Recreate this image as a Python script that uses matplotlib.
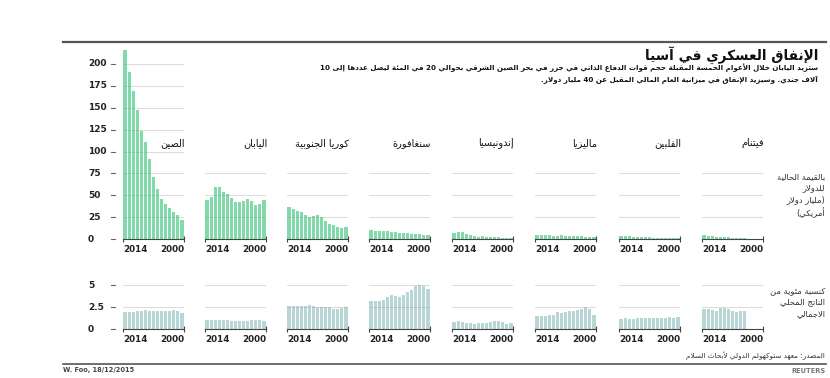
import re
import matplotlib
matplotlib.use('Agg')
import matplotlib.pyplot as plt
import matplotlib.transforms as mtransforms
from matplotlib.lines import Line2D

plt.rcParams['font.family'] = ['DejaVu Sans']

# ─── Data (years run 2014 -> 2000, left to right) ────────────────────────────
countries = ['الصين', 'اليابان', 'كوريا الجنوبية', 'سنغافورة',
             'إندونيسيا', 'ماليزيا', 'الفلبين', 'فيتنام']

# military spending, current USD bn
china_usd       = [216, 191, 169, 147, 123, 111, 92, 71, 57, 46, 40, 35, 31, 27, 22]
japan_usd       = [45, 48, 59, 59, 54, 51, 47, 42, 42, 44, 46, 43, 39, 40, 45]
korea_usd       = [37, 34, 32, 31, 28, 25, 26, 27, 25, 21, 17, 16, 14, 13, 14]
singapore_usd   = [9.8, 9.7, 9.7, 9.4, 8.9, 8.2, 7.7, 7.2, 6.8, 6.4, 6.1, 5.5, 5.2, 5.1, 5.0]
indonesia_usd   = [7.0, 8.4, 7.8, 6.0, 4.7, 3.3, 2.7, 3.0, 2.6, 2.6, 2.4, 2.3, 1.4, 1.1, 1.0]
malaysia_usd    = [4.9, 4.8, 4.6, 4.6, 3.9, 4.0, 4.6, 4.0, 3.4, 3.0, 3.0, 3.4, 2.7, 2.4, 1.9]
philippines_usd = [3.2, 3.3, 2.9, 2.4, 2.4, 2.2, 2.0, 1.9, 1.5, 1.2, 1.2, 1.1, 1.1, 1.1, 1.3]
vietnam_usd     = [4.3, 3.9, 3.4, 2.7, 2.4, 2.1, 1.9, 1.5, 1.2, 1.0, 0.9]

# share of GDP, %
china_gdp       = [1.95, 1.95, 1.95, 2.0, 2.1, 2.2, 2.05, 2.05, 2.05, 2.05, 2.05, 2.1, 2.15, 2.05, 1.8]
japan_gdp       = [1.0, 1.0, 1.05, 1.05, 1.0, 1.0, 0.95, 0.95, 0.95, 0.95, 0.95, 1.0, 1.0, 1.0, 0.95]
korea_gdp       = [2.6, 2.6, 2.6, 2.6, 2.6, 2.75, 2.6, 2.5, 2.5, 2.5, 2.45, 2.3, 2.3, 2.4, 2.5]
singapore_gdp   = [3.2, 3.2, 3.2, 3.3, 3.6, 3.9, 3.8, 3.6, 3.9, 4.2, 4.4, 4.9, 5.0, 4.9, 4.5]
indonesia_gdp   = [0.8, 0.9, 0.85, 0.7, 0.65, 0.6, 0.65, 0.7, 0.7, 0.75, 0.9, 0.9, 0.75, 0.6, 0.7]
malaysia_gdp    = [1.5, 1.5, 1.5, 1.6, 1.55, 1.9, 1.8, 1.95, 2.0, 2.1, 2.2, 2.3, 2.5, 2.25, 1.6]
philippines_gdp = [1.1, 1.2, 1.15, 1.15, 1.2, 1.2, 1.2, 1.2, 1.2, 1.2, 1.25, 1.3, 1.4, 1.3, 1.4]
vietnam_gdp     = [2.3, 2.3, 2.2, 2.0, 2.35, 2.35, 2.3, 2.1, 1.9, 2.0, 2.1]

usd_series = [china_usd, japan_usd, korea_usd, singapore_usd,
              indonesia_usd, malaysia_usd, philippines_usd, vietnam_usd]
gdp_series = [china_gdp, japan_gdp, korea_gdp, singapore_gdp,
              indonesia_gdp, malaysia_gdp, philippines_gdp, vietnam_gdp]

usd_ticks = [0, 25, 50, 75, 100, 125, 150, 175, 200]
gdp_ticks = [0, 2.5, 5]
gdp_tick_labels = ['0', '2.5', '5']
year_labels = ['2014', '2000']

title = 'الإنفاق العسكري في آسيا'
subtitle = ['ستزيد اليابان خلال الأعوام الخمسة المقبلة حجم قوات الدفاع الذاتي في جزر في بحر الصين الشرقي بحوالي 20 في المئة ليصل عددها إلى 10',
            'آلاف جندي. وسيزيد الإنفاق في ميزانية العام المالي المقبل عن 40 مليار دولار.']
usd_label = ['بالقيمة الحالية', 'للدولار', '(مليار دولار', 'أمريكي)']
gdp_label = ['كنسبة مئوية من', 'الناتج المحلي', 'الاجمالي']
source = 'المصدر: معهد ستوكهولم الدولي لأبحاث السلام'
credit = 'W. Foo, 18/12/2015'

# ─── Arabic shaping + visual ordering (matplotlib has no bidi) ───────────────
DUAL = {'ئ': 0xFE89, 'ب': 0xFE8F, 'ت': 0xFE95, 'ث': 0xFE99, 'ج': 0xFE9D, 'ح': 0xFEA1,
        'خ': 0xFEA5, 'س': 0xFEB1, 'ش': 0xFEB5, 'ص': 0xFEB9, 'ض': 0xFEBD, 'ط': 0xFEC1,
        'ظ': 0xFEC5, 'ع': 0xFEC9, 'غ': 0xFECD, 'ف': 0xFED1, 'ق': 0xFED5, 'ك': 0xFED9,
        'ل': 0xFEDD, 'م': 0xFEE1, 'ن': 0xFEE5, 'ه': 0xFEE9, 'ي': 0xFEF1}
RIGHT = {'آ': 0xFE81, 'أ': 0xFE83, 'ؤ': 0xFE85, 'إ': 0xFE87, 'ا': 0xFE8D, 'ة': 0xFE93,
         'د': 0xFEA9, 'ذ': 0xFEAB, 'ر': 0xFEAD, 'ز': 0xFEAF, 'و': 0xFEED, 'ى': 0xFEEF}
LAM_ALEF = {'آ': 0xFEF5, 'أ': 0xFEF7, 'إ': 0xFEF9, 'ا': 0xFEFB}


def forms(c):
    # (isolated, final, initial, medial)
    if c in DUAL:
        b = DUAL[c]
        return (b, b + 1, b + 2, b + 3)
    if c in RIGHT:
        b = RIGHT[c]
        return (b, b + 1, None, None)
    if c == 'ء':
        return (0xFE80, None, None, None)
    return None


def shape(text):
    toks = []
    i = 0
    while i < len(text):
        c = text[i]
        if c == 'ل' and i + 1 < len(text) and text[i + 1] in LAM_ALEF:
            b = LAM_ALEF[text[i + 1]]
            toks.append((b, b + 1, None, None))
            i += 2
            continue
        f = forms(c)
        toks.append(f if f else c)
        i += 1
    out = []
    for j, t in enumerate(toks):
        if not isinstance(t, tuple):
            out.append(t)
            continue
        prev = toks[j - 1] if j > 0 else None
        nxt = toks[j + 1] if j + 1 < len(toks) else None
        a = isinstance(prev, tuple) and prev[2] is not None and t[1] is not None
        b = t[2] is not None and isinstance(nxt, tuple) and nxt[1] is not None
        if a and b:
            out.append(chr(t[3]))
        elif a:
            out.append(chr(t[1]))
        elif b:
            out.append(chr(t[2]))
        else:
            out.append(chr(t[0]))
    return ''.join(out)


NUM = r'\d+(?:[./]\d+)*'
MIRROR = str.maketrans('()', ')(')


def ar(text):
    s = shape(text)
    runs = re.split('(' + NUM + ')', s)
    vis = []
    for r in reversed(runs):
        if re.fullmatch(NUM, r):
            vis.append(r)
        else:
            vis.append(r[::-1].translate(MIRROR))
    return ''.join(vis)


# ─── Figure ──────────────────────────────────────────────────────────────────
W, H = 830, 378
fig = plt.figure(figsize=(W / 100, H / 100), dpi=100)
fig.patch.set_facecolor('white')


def fx(px):
    return px / W


def fy(py):
    return 1 - py / H


def add_ax(x0, ytop, w, h):
    return fig.add_axes([fx(x0), fy(ytop + h), fx(w), h / H])


panel_x = [123, 205, 287, 369, 452, 535, 619, 702]
panel_w = 61
green = '#82d9aa'
blue = '#b7d6d5'
grid_c = '#999999'

# top row: 0 at y=239, 0.875 px per bn
usd_top, usd_max = 239 - 220 * 0.875, 220
# bottom row: 0 at y=329, 8.8 px per %
gdp_top, gdp_max = 329 - 5.5 * 8.8, 5.5


def style_ax(ax, ymax):
    ax.set_xlim(-0.5, 14.5)
    ax.set_ylim(0, ymax)
    for s in ['top', 'right', 'left']:
        ax.spines[s].set_visible(False)
    ax.spines['bottom'].set_color('#444444')
    ax.spines['bottom'].set_linewidth(0.8)
    ax.set_xticks([-0.5, 14.5])
    ax.tick_params(axis='x', direction='inout', length=5, width=0.8,
                   color='#444444', labelbottom=False)
    ax.set_yticks([])
    ax.patch.set_alpha(0)
    for lab, xv, ha in zip(year_labels, [-0.5, 14.5], ['left', 'right']):
        ax.annotate(lab, xy=(xv, 0), xytext=(0, -4.5), textcoords='offset points',
                    ha=ha, va='top', fontsize=6.3, fontweight='bold', color='#222222')


for i in range(8):
    # ── spending row
    ax = add_ax(panel_x[i], usd_top, panel_w, 220 * 0.875)
    vals = usd_series[i]
    ax.bar(range(len(vals)), vals, width=0.78, color=green, zorder=2)
    style_ax(ax, usd_max)
    lines = usd_ticks[1:] if i == 0 else usd_ticks[1:4]
    for v in lines:
        ax.axhline(v, color=grid_c, lw=0.6, alpha=0.4, zorder=3)
    ax.text(14.8, 110, ar(countries[i]), ha='right', va='center',
            fontsize=7, color='#111111')
    if i == 0:
        blend = mtransforms.blended_transform_factory(fig.transFigure, ax.transData)
        for v in usd_ticks:
            ax.text(fx(88), v, str(v), transform=blend, ha='left', va='center',
                    fontsize=6.5, fontweight='bold', color='#222222')
            ax.add_line(Line2D([fx(111), fx(115)], [v, v], transform=blend,
                               color='#666666', lw=0.8, clip_on=False))

    # ── share of GDP row
    ax2 = add_ax(panel_x[i], gdp_top, panel_w, 5.5 * 8.8)
    vals = gdp_series[i]
    ax2.bar(range(len(vals)), vals, width=0.78, color=blue, zorder=2)
    style_ax(ax2, gdp_max)
    for v in gdp_ticks[1:]:
        ax2.axhline(v, color=grid_c, lw=0.6, alpha=0.4, zorder=3)
    if i == 0:
        blend = mtransforms.blended_transform_factory(fig.transFigure, ax2.transData)
        for v, lab in zip(gdp_ticks, gdp_tick_labels):
            ax2.text(fx(88), v, lab, transform=blend, ha='left', va='center',
                     fontsize=6.5, fontweight='bold', color='#222222')
            ax2.add_line(Line2D([fx(111), fx(115)], [v, v], transform=blend,
                                color='#666666', lw=0.8, clip_on=False))

# ─── Texts and rules ─────────────────────────────────────────────────────────
fig.add_artist(Line2D([fx(63), fx(826)], [fy(42), fy(42)], color='#555555', lw=1.6))
fig.add_artist(Line2D([fx(63), fx(826)], [fy(364), fy(364)], color='#555555', lw=1.2))

fig.text(fx(818), fy(55), ar(title), ha='right', va='center',
         fontsize=9.8, fontweight='bold', color='#111111')
for k, line in enumerate(subtitle):
    fig.text(fx(818), fy(68 + k * 12), ar(line), ha='right', va='center',
             fontsize=5.1, fontweight='bold', color='#111111')

fig.text(fx(825), fy(172), '\n'.join(ar(t) for t in usd_label), ha='right', va='top',
         fontsize=6, color='#333333', linespacing=1.35, multialignment='right')
fig.text(fx(825), fy(286), '\n'.join(ar(t) for t in gdp_label), ha='right', va='top',
         fontsize=6, color='#333333', linespacing=1.35, multialignment='right')

fig.text(fx(825), fy(356), ar(source), ha='right', va='center', fontsize=5.2, color='#333333')
fig.text(fx(63), fy(370), credit, ha='left', va='center', fontsize=4.8,
         fontweight='bold', color='#444444')
fig.text(fx(825), fy(371), 'REUTERS', ha='right', va='center', fontsize=4.8,
         fontweight='bold', color='#777777')

fig.savefig('out.png', dpi=100, facecolor='white')
